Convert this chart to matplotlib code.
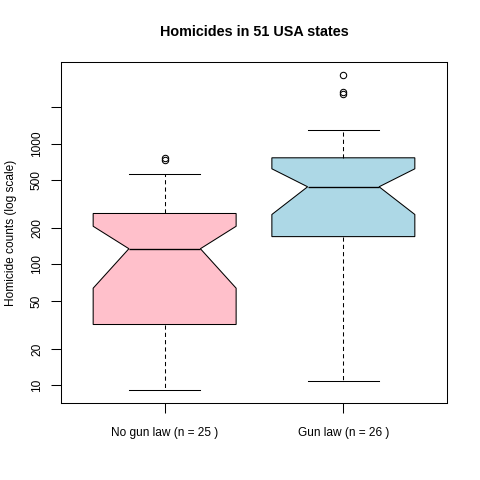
import matplotlib
matplotlib.use("Agg")
import matplotlib.pyplot as plt
import numpy as np

# ---- data ----
groups = ["No gun law (n = 25 )", "Gun law (n = 26 )"]
whislo = [9.1, 10.9]
q1 = [31.9, 170.0]
med = [135.0, 439.0]
q3 = [264.0, 762.0]
whishi = [555.0, 1297.0]
cilo = [63.7, 259.0]
cihi = [207.0, 618.0]
fliers = [[725.0, 755.0], [2590.0, 2670.0, 3716.0]]
colors = ["#FFC0CB", "#ADD8E6"]
yticks = [10, 20, 50, 100, 200, 500, 1000, 2000]
yticklabels = ["10", "20", "50", "100", "200", "500", "1000", ""]

plt.rcParams['font.family'] = ['Liberation Sans', 'DejaVu Sans']

W, H = 480, 480
fig = plt.figure(figsize=(W / 100, H / 100), dpi=100)
L, R, T, B = 61, 447, 62, 403
ax = fig.add_axes([L / W, 1 - B / H, (R - L) / W, (B - T) / H])

stats = []
for i in range(len(groups)):
    stats.append(dict(label=groups[i], whislo=whislo[i], q1=q1[i], med=med[i],
                      q3=q3[i], whishi=whishi[i], cilo=cilo[i], cihi=cihi[i],
                      fliers=fliers[i]))

lw = 0.75
bp = ax.bxp(stats, positions=[1, 2], widths=0.8, shownotches=True,
            patch_artist=True,
            boxprops=dict(edgecolor='black', linewidth=lw),
            medianprops=dict(color='black', linewidth=lw * 1.3),
            whiskerprops=dict(color='black', linewidth=lw, linestyle=(0, (4, 3))),
            capprops=dict(color='black', linewidth=lw),
            flierprops=dict(marker='o', markerfacecolor='none', markeredgecolor='black',
                            markersize=4.6, markeredgewidth=lw))
for patch, c in zip(bp['boxes'], colors):
    patch.set_facecolor(c)

ax.set_yscale('log')
ax.set_xlim(0.42, 2.58)
ax.set_ylim(7.16, 4720)
ax.set_yticks(yticks)
ax.set_yticklabels(yticklabels, rotation=90, va='center')
ax.yaxis.set_minor_locator(matplotlib.ticker.NullLocator())
ax.set_xticks([1, 2])
ax.set_xticklabels(groups)
ax.tick_params(axis='both', direction='out', length=7, width=lw, labelsize=8.6)
ax.tick_params(axis='y', pad=6)
ax.tick_params(axis='x', pad=10)
for s in ax.spines.values():
    s.set_linewidth(lw)

fig.text((L + R) / 2 / W, 1 - 32 / H, "Homicides in 51 USA states",
         ha='center', va='center', fontsize=10.4, fontweight='bold')
fig.text(11 / W, 1 - (T + B) / 2 / H, "Homicide counts (log scale)",
         ha='center', va='center', rotation=90, fontsize=8.6)

fig.savefig("out.png", dpi=100)
